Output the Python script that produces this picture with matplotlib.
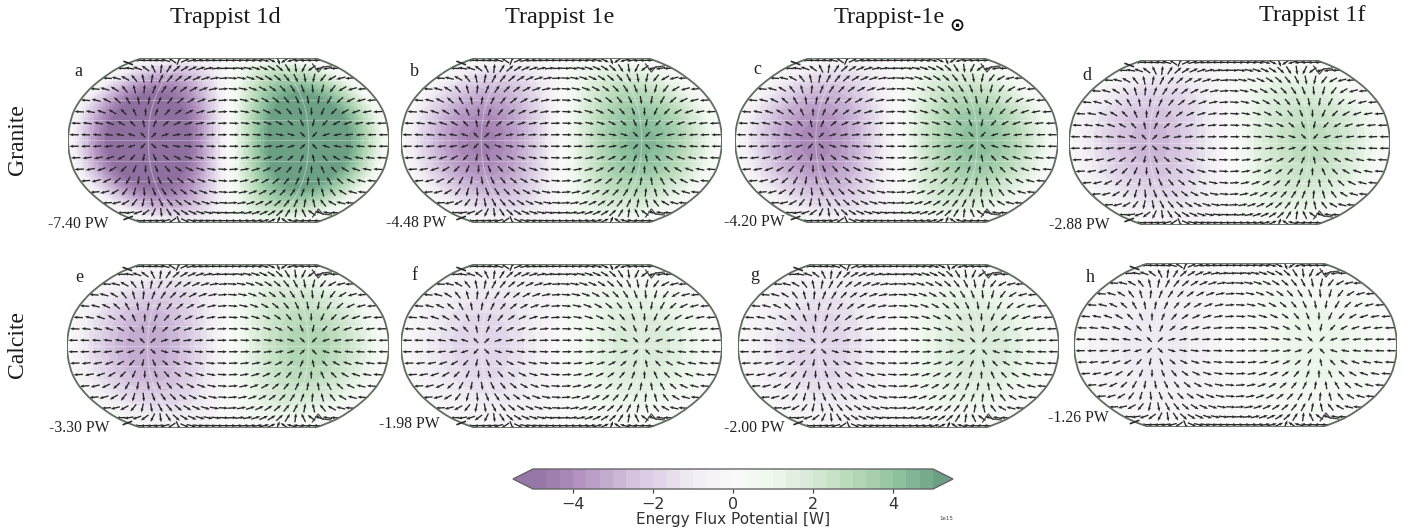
import numpy as np
import matplotlib
matplotlib.use("Agg")
import matplotlib.pyplot as plt
from matplotlib.colors import BoundaryNorm, ListedColormap, LinearSegmentedColormap
from matplotlib.patches import Polygon
from matplotlib.ticker import ScalarFormatter

W, H = 1408, 531
SERIF = "Liberation Serif"

columns = ["Trappist 1d", "Trappist 1e", "Trappist-1e", "Trappist 1f"]
rows = ["Granite", "Calcite"]
letters = ["a", "b", "c", "d", "e", "f", "g", "h"]
peaks_pw = [7.40, 4.48, 4.20, 2.88, 3.30, 1.98, 2.00, 1.26]
peak_labels = ["-7.40 PW", "-4.48 PW", "-4.20 PW", "-2.88 PW",
               "-3.30 PW", "-1.98 PW", "-2.00 PW", "-1.26 PW"]
# fraction of the peak, read against angular distance from the night-side centre
profile_deg = [0, 15, 30, 45, 60, 75, 90, 105, 120, 135, 150, 165, 180]
profile_frac = [-1.0, -0.97, -0.87, -0.71, -0.50, -0.26, 0.0, 0.26, 0.50, 0.71, 0.87, 0.97, 1.0]
cbar_ticks = [-4e15, -2e15, 0, 2e15, 4e15]

# colours (in 1e15 W)
color_vals = [-5, -4, -3, -2, -1, 0, 1, 2, 3, 4, 5]
color_list = ["#8e6f9f", "#ab88b8", "#c6aed2", "#ddd0e6", "#f1ecf4", "#fafafa",
              "#eef7ed", "#d5e9d3", "#b4d8b6", "#8fc29f", "#6ca084"]

# panel boxes in pixels: left, right, top, bottom
boxes = [(68, 389, 58, 223), (401, 722, 58, 223), (735, 1058, 58, 223), (1069, 1390, 60, 225),
         (67, 389, 264, 428), (401, 722, 264, 428), (738, 1059, 264, 428), (1074, 1397, 263, 427)]
letter_xy = [(78, 72), (414, 72), (757, 69), (1087, 75), (79, 277), (414, 275), (755, 275), (1090, 277)]
label_xy = [(78, 224), (416, 223), (754, 222), (1079, 225), (79, 428), (409, 424), (754, 428), (1078, 418)]
title_xy = [(225, 17), (560, 17), (889, 17), (1312, 15)]
row_y = [140, 345]

# Robinson projection constants
rob_lat = np.arange(0, 95, 5)
rob_x = np.array([1, .9986, .9954, .99, .9822, .973, .96, .9427, .9216, .8962, .8679, .835, .7986,
                  .7597, .7186, .6732, .6213, .5722, .5322])
rob_y = np.array([0, .062, .124, .186, .248, .31, .372, .434, .4958, .5571, .6176, .6769, .7346,
                  .7903, .8435, .8936, .9394, .9761, 1.0])


def project(lon, lat, w, h):
    lat = np.asarray(lat, float)
    lon = np.asarray(lon, float)
    return (np.interp(np.abs(lat), rob_lat, rob_x) * lon / 180 * w / 2,
            np.sign(lat) * np.interp(np.abs(lat), rob_lat, rob_y) * h / 2)


def potential(lon, lat, peak):
    la, lo = np.radians(lat), np.radians(lon + 90)
    dist = np.degrees(np.arccos(np.clip(np.cos(la) * np.cos(lo), -1, 1)))
    return peak * 1e15 * np.interp(dist, profile_deg, profile_frac)


# discrete colour steps
levels = np.linspace(-5e15, 5e15, 31)
smooth = LinearSegmentedColormap.from_list(
    "flux", [((v + 5) / 10, c) for v, c in zip(color_vals, color_list)])
steps = smooth(np.linspace(0, 1, 32))[:, :3]
cmap = ListedColormap(steps[1:-1])
cmap.set_under(steps[0])
cmap.set_over(steps[-1])
norm = BoundaryNorm(levels, cmap.N)

fig = plt.figure(figsize=(W / 100, H / 100), dpi=100)
bg = fig.add_axes([0, 0, 1, 1])
bg.set_xlim(0, W)
bg.set_ylim(H, 0)
bg.axis("off")

lon_e = np.linspace(-180, 180, 181)
lat_e = np.linspace(-90, 90, 91)
LON_E, LAT_E = np.meshgrid(lon_e, lat_e)
lon_c = 0.5 * (lon_e[1:] + lon_e[:-1])
lat_c = 0.5 * (lat_e[1:] + lat_e[:-1])
LON_C, LAT_C = np.meshgrid(lon_c, lat_c)

arrow_lon = -180 + 360 / 28 * (np.arange(28) + 0.5)
arrow_lat = -90 + 11.25 * (np.arange(16) + 0.5)
A_LON, A_LAT = np.meshgrid(arrow_lon, arrow_lat)

for i, (l, r, t_px, b) in enumerate(boxes):
    w, h = r - l, b - t_px
    ax = fig.add_axes([l / W, 1 - b / H, w / W, h / H])
    ax.set_xlim(-w / 2, w / 2)
    ax.set_ylim(-h / 2, h / 2)
    ax.axis("off")
    peak = peaks_pw[i]

    X, Y = project(LON_E, LAT_E, w, h)
    mesh = ax.pcolormesh(X, Y, potential(LON_C, LAT_C, peak), cmap=cmap, norm=norm,
                         shading="flat", antialiased=False, zorder=1)

    lat_line = np.linspace(-90, 90, 181)
    ox_r, oy_r = project(np.full_like(lat_line, 180), lat_line, w, h)
    ox_l, oy_l = project(np.full_like(lat_line, -180), lat_line[::-1], w, h)
    outline = np.column_stack([np.r_[ox_r, ox_l], np.r_[oy_r, oy_l]])
    clip = Polygon(outline, closed=True, transform=ax.transData, fc="none", ec="none")
    ax.add_patch(clip)
    mesh.set_clip_path(clip)

    # graticule
    for glat in [-60, -40, -20, 0, 20, 40, 60]:
        lo = np.linspace(-180, 180, 50)
        gx, gy = project(lo, np.full_like(lo, glat), w, h)
        ax.plot(gx, gy, color="white", lw=0.8, alpha=0.3, zorder=2)
    for glon in [-90, 90]:
        gx, gy = project(np.full_like(lat_line, glon), lat_line, w, h)
        ax.plot(gx, gy, color="white", lw=0.8, alpha=0.35, zorder=2)

    # gradient of the potential drawn as arrows
    d = 1.0
    dphi_lon = (potential(A_LON + d, A_LAT, peak) - potential(A_LON - d, A_LAT, peak)) / (2 * d)
    dphi_lat = (potential(A_LON, A_LAT + d, peak) - potential(A_LON, A_LAT - d, peak)) / (2 * d)
    east = dphi_lon / np.cos(np.radians(A_LAT))
    north = dphi_lat
    ax0, ay0 = project(A_LON, A_LAT, w, h)
    s = 0.5
    ex, ey = project(A_LON + s / np.cos(np.radians(A_LAT)), A_LAT, w, h)
    nx, ny = project(A_LON, A_LAT + s, w, h)
    U = east * (ex - ax0) + north * (nx - ax0)
    V = east * (ey - ay0) + north * (ny - ay0)
    mag = np.hypot(U, V)
    grad = np.hypot(east, north) / (peak * 1e15 * np.pi / 180)
    length = 7.0 + 2.5 * np.clip(grad, 0, 1)
    q = ax.quiver(ax0, ay0, U / mag * length, V / mag * length, angles="xy", scale_units="xy", scale=1,
                  pivot="mid", units="xy", width=1.35, headwidth=2.3, headlength=3.0, headaxislength=2.8,
                  color="#2a2a2a", zorder=3)
    q.set_clip_path(clip)

    ax.plot(outline[:, 0], outline[:, 1], color="#5e6e5e", lw=1.3, zorder=4)
    ax.plot(outline[[-1, 0], 0], outline[[-1, 0], 1], color="#5e6e5e", lw=1.3, zorder=4)

    # small pole artefacts on the outline
    for sgn in (1, -1):
        ax.plot([0.262 * w, 0.28 * w, 0.293 * w, 0.32 * w],
                [sgn * (h / 2 - 6), sgn * (h / 2 - 14), sgn * (h / 2 - 9), sgn * (h / 2 - 8)],
                color="#444444", lw=0.9, zorder=4)
        ax.plot([-0.325 * w, -0.30 * w], [sgn * (h / 2 - 3.5), sgn * (h / 2 - 6.5)],
                color="#2a2a2a", lw=1.2, zorder=4, clip_on=False)

    bg.text(*letter_xy[i], letters[i], family=SERIF, fontsize=13, ha="center", va="center", color="#222222")

# labels above panels
for i in range(8):
    bg.text(*label_xy[i], peak_labels[i], family=SERIF, fontsize=11.3, ha="center", va="center",
            color="#222222", zorder=10)
bg.set_zorder(5)

for name, (x, y) in zip(columns, title_xy):
    bg.text(x, y, name, family=SERIF, fontsize=17.5, ha="center", va="center", color="#1a1a1a")
bg.text(957, 26, "\u2299", family="DejaVu Sans", fontsize=13, fontweight="bold", ha="center", va="center", color="#111111")
for name, y in zip(rows, row_y):
    bg.text(18, y, name, family=SERIF, fontsize=17, rotation=90, ha="center", va="center", color="#1a1a1a")

cax = fig.add_axes([513 / W, 1 - 489 / H, 440 / W, 20 / H])
sm = plt.cm.ScalarMappable(norm=norm, cmap=cmap)
cb = fig.colorbar(sm, cax=cax, orientation="horizontal", extend="both", extendfrac=0.05,
                  ticks=cbar_ticks, spacing="proportional", drawedges=False)
cb.ax.xaxis.set_major_formatter(ScalarFormatter())
cb.minorticks_off()
cb.ax.tick_params(labelsize=11.5, length=3, width=0.8, colors="#333333", pad=3)
cb.outline.set_edgecolor("#666666")
cb.outline.set_linewidth(1.0)
cb.set_label("Energy Flux Potential [W]", fontsize=11, color="#333333", labelpad=0)
offset = cb.ax.xaxis.get_offset_text()
offset.set_fontsize(4)
offset.set_color("#444444")
offset.set_x(1.05)

fig.savefig("out.png", dpi=100)
